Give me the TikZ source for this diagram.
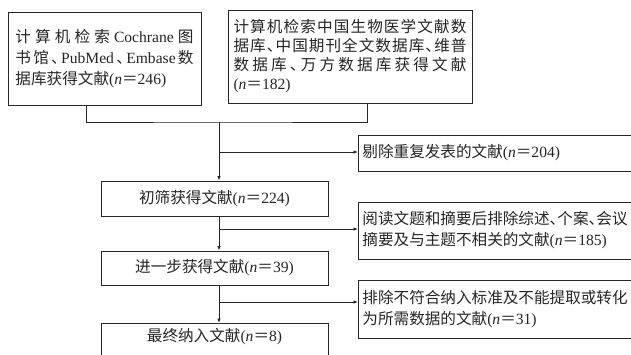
\documentclass[tikz,border=0pt]{standalone}
\usepackage{fontspec}
\setmainfont{Noto Sans CJK SC}
\newfontfamily\lat{Liberation Serif}
\usetikzlibrary{arrows.meta}
\def\Jend{JEND}
\def\J#1{\Jx#1\Jend}
\def\Jx#1{\ifx\Jend#1\unskip\else{#1}\hfil\expandafter\Jx\fi}
\newcommand\JL[2]{\makebox[#1][s]{\J{#2}}}
\newcommand\dun{\makebox[0.5em][l]{、}}
\newcommand\nn[1]{{\lat(\itshape n}＝{\lat #1)}}
\begin{document}
\begin{tikzpicture}[x=1pt,y=-1pt,
  box/.style={draw=black!85, line width=0.9pt, inner sep=0pt, text=black!85,
    font=\fontsize{15.6}{20.5}\selectfont},
  arr/.style={draw=black!85, line width=0.9pt, -{Latex[length=4.5pt,width=3.5pt]}},
  ln/.style={draw=black!85, line width=0.9pt}]
\useasboundingbox (0,0) rectangle (631,355);
\clip (0,0) rectangle (631,355);
\fill[white] (0,0) rectangle (631,355);
% top boxes
\node[box, minimum width=193, minimum height=93, align=left,
  font=\fontsize{15.6}{21}\selectfont] (b1) at (104.5,58.5)
  {\JL{178pt}{计算机检索{\lat Cochrane}图}\\
   \JL{178pt}{书馆\dun{\lat PubMed}\dun{\lat Embase}数}\\
   据库获得文献\nn{246}};
\node[box, minimum width=244, minimum height=93, align=left,
  font=\fontsize{15.6}{19}\selectfont] (b2) at (350,56.5)
  {\JL{233pt}{计算机检索中国生物医学文献数}\\
   \JL{233pt}{据库\dun 中国期刊全文数据库\dun 维普}\\
   \JL{233pt}{数据库\dun 万方数据库获得文献}\\
   \nn{182}};
% centre boxes
\node[box, minimum width=227, minimum height=35] (c1) at (214.5,198.5) {初筛获得文献\nn{224}};
\node[box, minimum width=227, minimum height=34] (c2) at (214.5,268) {进一步获得文献\nn{39}};
\node[box, minimum width=227, anchor=north, inner ysep=5pt, text depth=30pt] (c3) at (214.5,323) {最终纳入文献\nn{8}};
% right boxes
\node[box, anchor=west, minimum height=36, text width=280, inner xsep=4pt, align=left] (r1) at (358,153)
  {剔除重复发表的文献\nn{204}};
\node[box, anchor=west, minimum height=57, text width=280, inner xsep=4pt, align=left,
  font=\fontsize{15.6}{21}\selectfont] (r2) at (358,230.5)
  {阅读文题和摘要后排除综述\dun 个案\dun 会议\\摘要及与主题不相关的文献\nn{185}};
\node[box, anchor=west, minimum height=58, text width=280, inner xsep=4pt, align=left] (r3) at (358,309)
  {排除不符合纳入标准及不能提取或转化\\为所需数据的文献\nn{31}};
% connectors
\coordinate (m) at (219,122);
\coordinate (j1) at (219,152);
\coordinate (j2) at (219,229);
\coordinate (j3) at (219,302);
\draw[ln] ([xshift=-18.5pt]b1.south) |- (m) -| ([xshift=17pt]b2.south);
\draw[arr] (m) -- (m |- c1.north);
\draw[arr] (j1) -- (j1 -| r1.west);
\draw[arr] (m |- c1.south) -- (m |- c2.north);
\draw[arr] (j2) -- (j2 -| r2.west);
\draw[arr] (m |- c2.south) -- (m |- c3.north);
\draw[arr] (j3) -- (j3 -| r3.west);
\end{tikzpicture}
\end{document}
